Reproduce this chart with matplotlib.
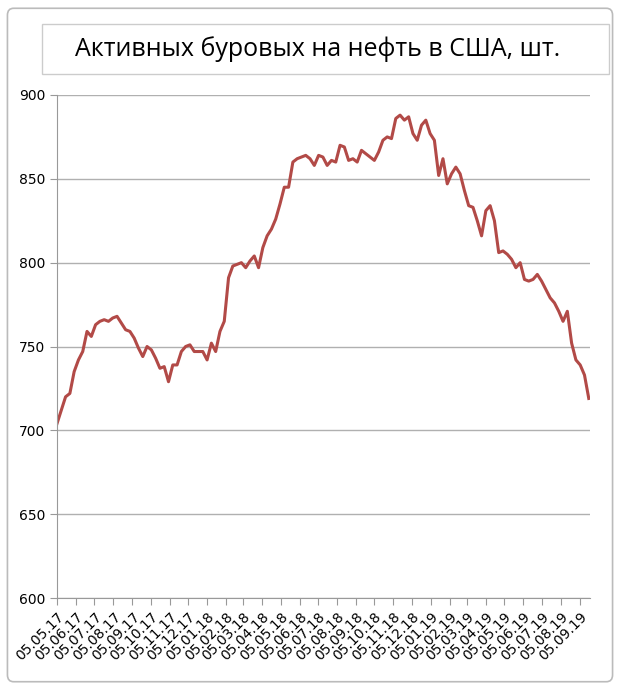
import numpy as np
import pandas as pd
import matplotlib.pyplot as plt
from matplotlib.patches import FancyBboxPatch, Rectangle

# weekly oil rig count
start = "2017-05-05"
rigs = [704, 712, 720, 722, 735, 742, 747, 759, 756, 763,
        765, 766, 765, 767, 768, 764, 760, 759, 755, 749,
        744, 750, 748, 743, 737, 738, 729, 739, 739, 747,
        750, 751, 747, 747, 747, 742, 752, 747, 759, 765,
        791, 798, 799, 800, 797, 801, 804, 797, 809, 816,
        820, 826, 835, 845, 845, 860, 862, 863, 864, 862,
        858, 864, 863, 858, 861, 860, 870, 869, 861, 862,
        860, 867, 865, 863, 861, 866, 873, 875, 874, 886,
        888, 885, 887, 877, 873, 882, 885, 877, 873, 852,
        862, 847, 853, 857, 853, 843, 834, 833, 825, 816,
        831, 834, 825, 806, 807, 805, 802, 797, 800, 790,
        789, 790, 793, 789, 784, 779, 776, 771, 765, 771,
        752, 742, 739, 733, 719]
dates = pd.date_range(start, periods=len(rigs), freq="7D")
tick_dates = pd.date_range("2017-05-01", "2019-09-01", freq="MS") + pd.Timedelta(days=4)
tick_labels = [d.strftime("%d.%m.%y") for d in tick_dates]
title = "Активных буровых на нефть в США, шт."

fig = plt.figure(figsize=(6.2, 6.9), dpi=100)
fig.patches.append(FancyBboxPatch((0.012, 0.012), 0.976, 0.976, boxstyle="round,pad=0,rounding_size=0.01",
                                  transform=fig.transFigure, fill=False, ec="#bbbbbb", lw=1.2))
fig.patches.append(Rectangle((0.068, 0.893), 0.915, 0.072, transform=fig.transFigure,
                             fill=False, ec="#cccccc", lw=1))
fig.text(75 / 620, 0.929, title, ha="left", va="center", fontsize=18, family="Open Sans")

ax = fig.add_axes([57 / 620, 1 - 598 / 690, 533 / 620, 503 / 690])
ax.plot(dates, rigs, color="#b24a47", lw=2.2)
ax.set_ylim(600, 900)
ax.set_yticks(range(600, 901, 50))
ax.set_xlim(dates[0], dates[-1] + pd.Timedelta(days=2))
ax.set_xticks(tick_dates)
ax.set_xticklabels(tick_labels, rotation=45, ha="right", rotation_mode="anchor")
ax.grid(axis="y", color="#b0b0b0", lw=1)
for s in ["top", "right"]:
    ax.spines[s].set_visible(False)
ax.spines["left"].set_color("#999999")
ax.spines["bottom"].set_color("#999999")
ax.tick_params(axis="x", direction="out", length=5, color="#999999", labelsize=10)
ax.tick_params(axis="y", length=5, color="#999999", labelsize=10)
ax.set_axisbelow(True)

fig.savefig("out.png", dpi=100)
